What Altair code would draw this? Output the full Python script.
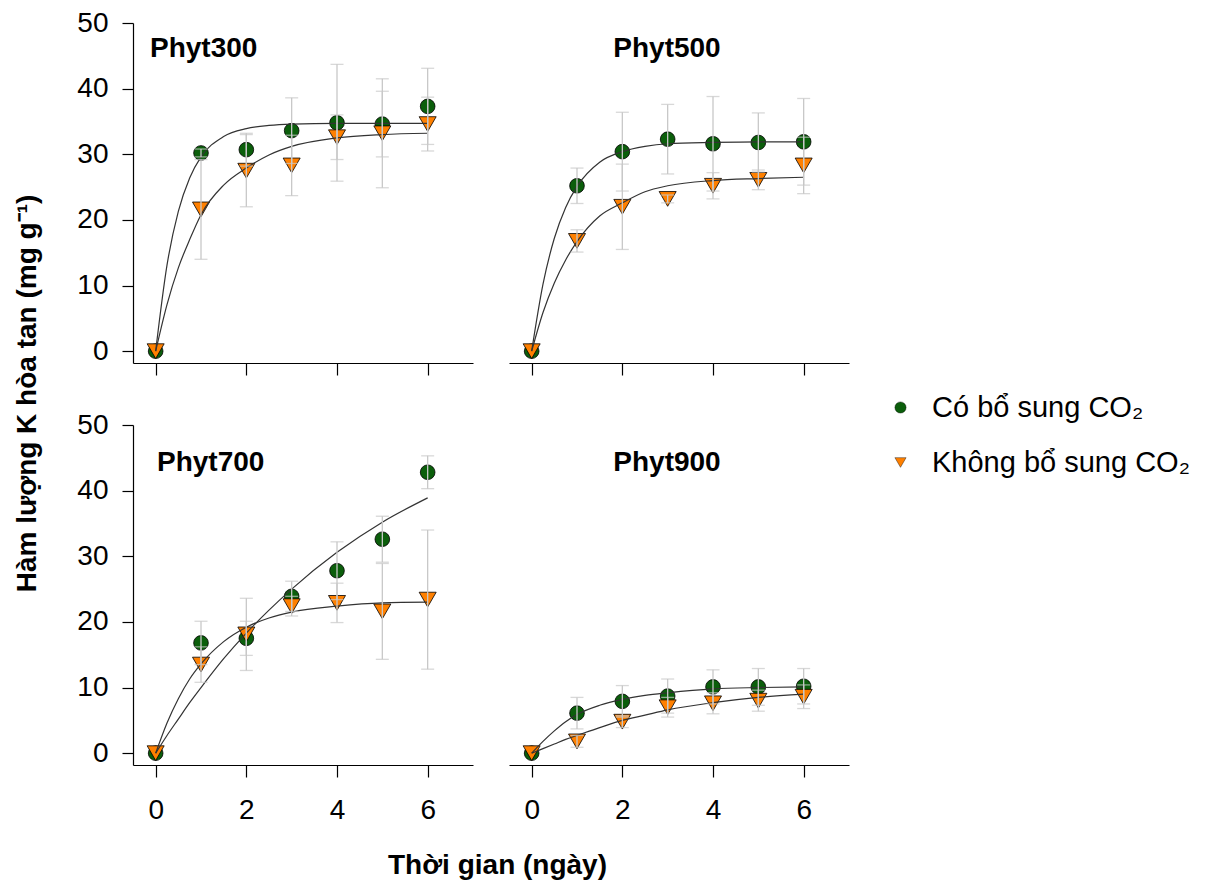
import altair as alt
import pandas as pd

# ---------------- data ----------------
days = [0, 1, 2, 3, 4, 5, 6]
curve_days = [0, 0.25, 0.5, 0.75, 1, 1.5, 2, 2.5, 3, 4, 5, 6]
series_names = ["Có bổ sung CO₂", "Không bổ sung CO₂"]
panel_names = ["Phyt300", "Phyt500", "Phyt700", "Phyt900"]

# Phyt300
p300_co2 = [0, 30.2, 30.7, 33.6, 34.8, 34.6, 37.3]
p300_co2_sd = [0, 0.6, 2.5, 5.0, 8.9, 5.0, 5.8]
p300_no = [0, 21.6, 27.5, 28.3, 32.6, 33.2, 34.6]
p300_no_sd = [0, 7.6, 5.5, 4.6, 3.4, 8.3, 4.1]
p300_co2_fit = [0, 13.1, 21.3, 26.4, 29.6, 32.7, 33.9, 34.4, 34.6, 34.7, 34.7, 34.7]
p300_no_fit = [0, 7.1, 12.7, 17.0, 20.8, 25.3, 27.9, 29.9, 31.2, 32.5, 33.0, 33.2]

# Phyt500
p500_co2 = [0, 25.2, 30.4, 32.3, 31.6, 31.8, 31.9]
p500_co2_sd = [0, 2.7, 6.0, 5.3, 7.2, 4.5, 6.6]
p500_no = [0, 16.8, 22.0, 23.2, 25.2, 26.1, 28.3]
p500_no_sd = [0, 1.7, 6.5, 0.6, 2.0, 1.5, 4.3]
p500_co2_fit = [0, 10.2, 17.2, 21.9, 25.1, 28.8, 30.4, 31.2, 31.6, 31.8, 31.9, 31.9]
p500_no_fit = [0, 5.9, 10.4, 13.9, 16.7, 20.6, 22.6, 24.3, 25.2, 26.0, 26.3, 26.5]

# Phyt700
p700_co2 = [0, 16.8, 17.5, 23.9, 27.8, 32.6, 42.8]
p700_co2_sd = [0, 3.3, 2.6, 2.3, 4.4, 3.5, 2.5]
p700_no = [0, 13.5, 18.1, 22.4, 22.9, 21.6, 23.4]
p700_no_sd = [0, 2.7, 5.5, 1.5, 3.0, 7.3, 10.6]
p700_co2_fit = [0, 2.7, 5.2, 7.7, 10.0, 14.4, 18.3, 21.8, 25.0, 30.6, 35.2, 38.9]
p700_no_fit = [0, 4.6, 8.3, 11.3, 13.6, 17.0, 19.2, 20.6, 21.5, 22.4, 22.9, 23.0]

# Phyt900
p900_co2 = [0, 6.1, 7.9, 8.7, 10.1, 10.1, 10.2]
p900_co2_sd = [0, 2.4, 2.4, 2.6, 2.6, 2.8, 2.7]
p900_no = [0, 1.8, 4.8, 7.0, 7.6, 8.0, 8.6]
p900_no_sd = [0, 0.9, 0.9, 1.5, 1.6, 1.6, 1.8]
p900_co2_fit = [0, 1.8, 3.4, 4.8, 5.9, 7.3, 8.2, 8.8, 9.2, 9.8, 10.0, 10.1]
p900_no_fit = [0, 0.7, 1.4, 2.1, 2.7, 3.9, 5.0, 5.8, 6.6, 7.7, 8.5, 9.0]

x_ticks = [0, 2, 4, 6]
y_ticks = [0, 10, 20, 30, 40, 50]

# ---------------- styling ----------------
GREEN = "#0b5e0b"
ORANGE = "#ff8000"
ERR = "#c8c8c8"
FONT = "Liberation Sans"
W = 340
H = 340

x_scale = alt.Scale(domain=[-0.5, 7], nice=False, zero=False)
y_scale = alt.Scale(domain=[-1.8, 50], nice=False, zero=False)
color_scale = alt.Scale(domain=series_names, range=[GREEN, ORANGE])
shape_scale = alt.Scale(domain=series_names, range=["circle", "triangle-down"])

legend = alt.Legend(
    orient="none", legendX=753, legendY=370, title=None,
    labelFontSize=29, labelFont=FONT, labelColor="black", labelLimit=0,
    symbolSize=125, rowPadding=25, labelOffset=17,
    symbolStrokeColor="black", symbolStrokeWidth=0.4, padding=0,
)


def panel(name, co2, co2_sd, no, no_sd, co2_fit, no_fit, left, bottom, tx, ty, talign):
    pts = pd.DataFrame({
        "day": days + days,
        "value": co2 + no,
        "sd": co2_sd + no_sd,
        "series": [series_names[0]] * len(days) + [series_names[1]] * len(days),
    })
    pts["lo"] = pts["value"] - pts["sd"]
    pts["hi"] = pts["value"] + pts["sd"]
    err = pts[pts["sd"] > 0]
    fit = pd.DataFrame({
        "day": curve_days + curve_days,
        "value": co2_fit + no_fit,
        "series": [series_names[0]] * len(curve_days) + [series_names[1]] * len(curve_days),
    })
    lab = pd.DataFrame({"label": [name]})

    if bottom:
        x_axis = alt.Axis(values=x_ticks, title=None, labels=True, ticks=True,
                          tickSize=12, labelPadding=19, grid=False)
        if left:
            x_axis = alt.Axis(values=x_ticks, title="Thời gian (ngày)", labels=True, ticks=True,
                              tickSize=12, labelPadding=19, grid=False,
                              titleX=364, titleY=86, titleAnchor="middle",
                              titleFontSize=28, titleFontWeight="bold", titleFont=FONT,
                              titleColor="black", titleBaseline="top")
    else:
        x_axis = alt.Axis(values=x_ticks, title=None, labels=False, ticks=True,
                          tickSize=12, grid=False)

    if left:
        if bottom:
            y_axis = alt.Axis(values=y_ticks, title=None, tickSize=11, labelPadding=14, grid=False)
        else:
            y_axis = alt.Axis(values=y_ticks, title="Hàm lượng K hòa tan (mg g⁻¹)",
                              tickSize=11, labelPadding=14, grid=False,
                              titleX=-92, titleY=370, titleAngle=-90, titleAlign="center",
                              titleBaseline="bottom",
                              titleFontSize=28, titleFontWeight="bold", titleFont=FONT,
                              titleColor="black")
    else:
        y_axis = None

    x_enc = alt.X("day:Q", scale=x_scale, axis=x_axis)
    y_enc = alt.Y("value:Q", scale=y_scale, axis=y_axis)
    col_enc = alt.Color("series:N", scale=color_scale, legend=legend)
    shp_enc = alt.Shape("series:N", scale=shape_scale, legend=legend)

    base_pts = alt.Chart(pts)
    pts_co2 = base_pts.transform_filter(
        alt.datum.series == series_names[0]
    ).mark_point(filled=True, stroke="black", strokeWidth=0.8, opacity=1, size=215).encode(
        x=x_enc, y=y_enc, color=col_enc, shape=shp_enc,
    )
    pts_no = base_pts.transform_filter(
        alt.datum.series == series_names[1]
    ).mark_point(filled=True, stroke="black", strokeWidth=0.8, opacity=1, size=290).encode(
        x=x_enc, y=y_enc, color=col_enc, shape=shp_enc,
    )
    lines = alt.Chart(fit).mark_line(color="#333333", strokeWidth=1.2,
                                     interpolate="monotone").encode(
        x=alt.X("day:Q", scale=x_scale), y=alt.Y("value:Q", scale=y_scale),
        detail="series:N",
    )
    bars = alt.Chart(err).mark_rule(color=ERR, strokeWidth=1.3).encode(
        x=alt.X("day:Q", scale=x_scale), y=alt.Y("lo:Q", scale=y_scale), y2="hi:Q",
    )
    caps_lo = alt.Chart(err).mark_tick(color=ERR, orient="horizontal", size=13,
                                       thickness=1.3).encode(
        x=alt.X("day:Q", scale=x_scale), y=alt.Y("lo:Q", scale=y_scale),
    )
    caps_hi = alt.Chart(err).mark_tick(color=ERR, orient="horizontal", size=13,
                                       thickness=1.3).encode(
        x=alt.X("day:Q", scale=x_scale), y=alt.Y("hi:Q", scale=y_scale),
    )
    title = alt.Chart(lab).mark_text(font=FONT, fontSize=28, fontWeight="bold",
                                     color="black", align=talign,
                                     baseline="middle").encode(
        text="label:N", x=alt.value(tx), y=alt.value(ty),
    )
    return alt.layer(pts_co2, pts_no, lines, bars, caps_lo, caps_hi, title).properties(
        width=W, height=H)


tl = panel(panel_names[0], p300_co2, p300_co2_sd, p300_no, p300_no_sd,
           p300_co2_fit, p300_no_fit, True, False, 17, 26, "left")
tr = panel(panel_names[1], p500_co2, p500_co2_sd, p500_no, p500_no_sd,
           p500_co2_fit, p500_no_fit, False, False, 158, 26, "center")
bl = panel(panel_names[2], p700_co2, p700_co2_sd, p700_no, p700_no_sd,
           p700_co2_fit, p700_no_fit, True, True, 24, 38, "left")
br = panel(panel_names[3], p900_co2, p900_co2_sd, p900_no, p900_no_sd,
           p900_co2_fit, p900_no_fit, False, True, 158, 38, "center")

chart = alt.concat(tl, tr, bl, br, columns=2).properties(
    spacing={"row": 62, "column": 36}, bounds="flush",
    padding={"left": 5, "top": 1, "right": 5, "bottom": 5},
).resolve_scale(color="shared", shape="shared").configure(
    font=FONT,
).configure_view(stroke=None).configure_axis(
    domainColor="black", domainWidth=1.2, tickColor="black", tickWidth=1.2,
    labelFontSize=28, labelFont=FONT, labelColor="black",
)

chart.save("out.html", embed_options={"renderer": "svg", "actions": False})
